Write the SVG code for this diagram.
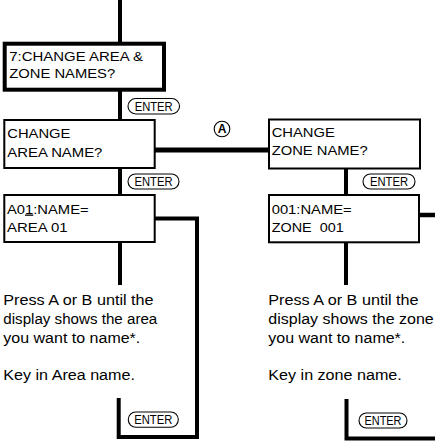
<svg xmlns="http://www.w3.org/2000/svg" width="435" height="442" viewBox="0 0 435 442">
<style>
.box{fill:#fff;stroke:#000;stroke-width:2}
.thick{stroke-width:4}
.conn{fill:none;stroke:#000;stroke-width:4;stroke-linejoin:miter}
.t{font-family:"Liberation Sans",Arial,sans-serif;font-size:13px;fill:#000}
.b{font-family:"Liberation Sans",Arial,sans-serif;font-size:14px;fill:#000}
.pill{fill:#fff;stroke:#000;stroke-width:1.1}
.k{font-family:"Liberation Sans",Arial,sans-serif;font-size:13px;fill:#000;text-anchor:middle}
</style>
<rect width="435" height="442" fill="#fff"/>
<g id="connectors">
<path class="conn" d="M120,0 V44"/>
<path class="conn" d="M120,90 V120"/>
<path class="conn" d="M120,168 V195"/>
<path class="conn" d="M120,242 V285"/>
<path class="conn" style="stroke-width:5" d="M155,150 H269"/>
<path class="conn" d="M118.7,398 V437 H197 V218.5 H155"/>
<path class="conn" d="M346,168 V195"/>
<path class="conn" d="M346,242 V285"/>
<path class="conn" style="stroke-width:4.5" d="M419,215 H435"/>
<path class="conn" d="M346.5,399 V438.5 H435"/>
</g>
<g id="node-change-area-zone">
<rect class="box thick" x="4.7" y="43.7" width="159.3" height="46"/>
<text class="t" x="9.3" y="61" textLength="133.7" lengthAdjust="spacingAndGlyphs">7:CHANGE AREA &amp;</text>
<text class="t" x="9.3" y="78.3" textLength="105.8" lengthAdjust="spacingAndGlyphs">ZONE NAMES?</text>
</g>
<g id="enter-1"><rect class="pill" x="128" y="98.5" width="51.5" height="15.5" rx="7.75"/><text class="k" x="153.7" y="110.9" textLength="38" lengthAdjust="spacingAndGlyphs">ENTER</text></g>
<g id="node-change-area-name">
<rect class="box" x="4.3" y="120" width="150.4" height="48"/>
<text class="t" x="7.3" y="138" textLength="63.1" lengthAdjust="spacingAndGlyphs">CHANGE</text>
<text class="t" x="7.3" y="156.5" textLength="95.1" lengthAdjust="spacingAndGlyphs">AREA NAME?</text>
</g>
<g id="label-a"><circle cx="222" cy="129" r="7.8" fill="#fff" stroke="#000" stroke-width="1.1"/><text class="k" x="222" y="133.3" style="font-size:12px;font-weight:bold">A</text></g>
<g id="enter-2"><rect class="pill" x="128" y="174" width="51" height="15" rx="7.5"/><text class="k" x="153.5" y="186.2" textLength="38" lengthAdjust="spacingAndGlyphs">ENTER</text></g>
<g id="node-a01">
<rect class="box" x="4.3" y="195" width="150.4" height="47"/>
<text class="t" x="7" y="213.5" textLength="81.6" lengthAdjust="spacingAndGlyphs">A0<tspan style="text-decoration:underline">1</tspan>:NAME=</text>
<text class="t" x="7" y="231.5" textLength="60.7" lengthAdjust="spacingAndGlyphs">AREA 01</text>
</g>
<g id="text-area">
<text class="b" x="3.3" y="305" textLength="150.3" lengthAdjust="spacingAndGlyphs">Press A or B until the</text>
<text class="b" x="3.3" y="324" textLength="154" lengthAdjust="spacingAndGlyphs">display shows the area</text>
<text class="b" x="3.3" y="343" textLength="137" lengthAdjust="spacingAndGlyphs">you want to name*.</text>
<text class="b" x="3.3" y="380" textLength="131.6" lengthAdjust="spacingAndGlyphs">Key in Area name.</text>
</g>
<g id="enter-3"><rect class="pill" x="128.3" y="412" width="50" height="15.3" rx="7.6"/><text class="k" x="153.3" y="424.3" textLength="38" lengthAdjust="spacingAndGlyphs">ENTER</text></g>
<g id="node-change-zone-name">
<rect class="box" x="269" y="119.5" width="151" height="49"/>
<text class="t" x="271.7" y="137.3" textLength="63.1" lengthAdjust="spacingAndGlyphs">CHANGE</text>
<text class="t" x="271.7" y="155" textLength="96" lengthAdjust="spacingAndGlyphs">ZONE NAME?</text>
</g>
<g id="enter-4"><rect class="pill" x="363" y="174" width="52" height="15" rx="7.5"/><text class="k" x="389" y="186.2" textLength="38" lengthAdjust="spacingAndGlyphs">ENTER</text></g>
<g id="node-zone-001">
<rect class="box" x="269" y="195" width="150" height="47.3"/>
<text class="t" x="271.7" y="214.3" textLength="80" lengthAdjust="spacingAndGlyphs">001:NAME=</text>
<text class="t" x="271.7" y="231.7" textLength="72" lengthAdjust="spacingAndGlyphs" xml:space="preserve">ZONE  001</text>
</g>
<g id="text-zone">
<text class="b" x="268.3" y="305" textLength="150.3" lengthAdjust="spacingAndGlyphs">Press A or B until the</text>
<text class="b" x="268.3" y="324" textLength="165.4" lengthAdjust="spacingAndGlyphs">display shows the zone</text>
<text class="b" x="268.3" y="343" textLength="137" lengthAdjust="spacingAndGlyphs">you want to name*.</text>
<text class="b" x="268.3" y="380" textLength="133.5" lengthAdjust="spacingAndGlyphs">Key in zone name.</text>
</g>
<g id="enter-5"><rect class="pill" x="359" y="413" width="48" height="15" rx="7.5"/><text class="k" x="383" y="425.2" textLength="37" lengthAdjust="spacingAndGlyphs">ENTER</text></g>
</svg>
